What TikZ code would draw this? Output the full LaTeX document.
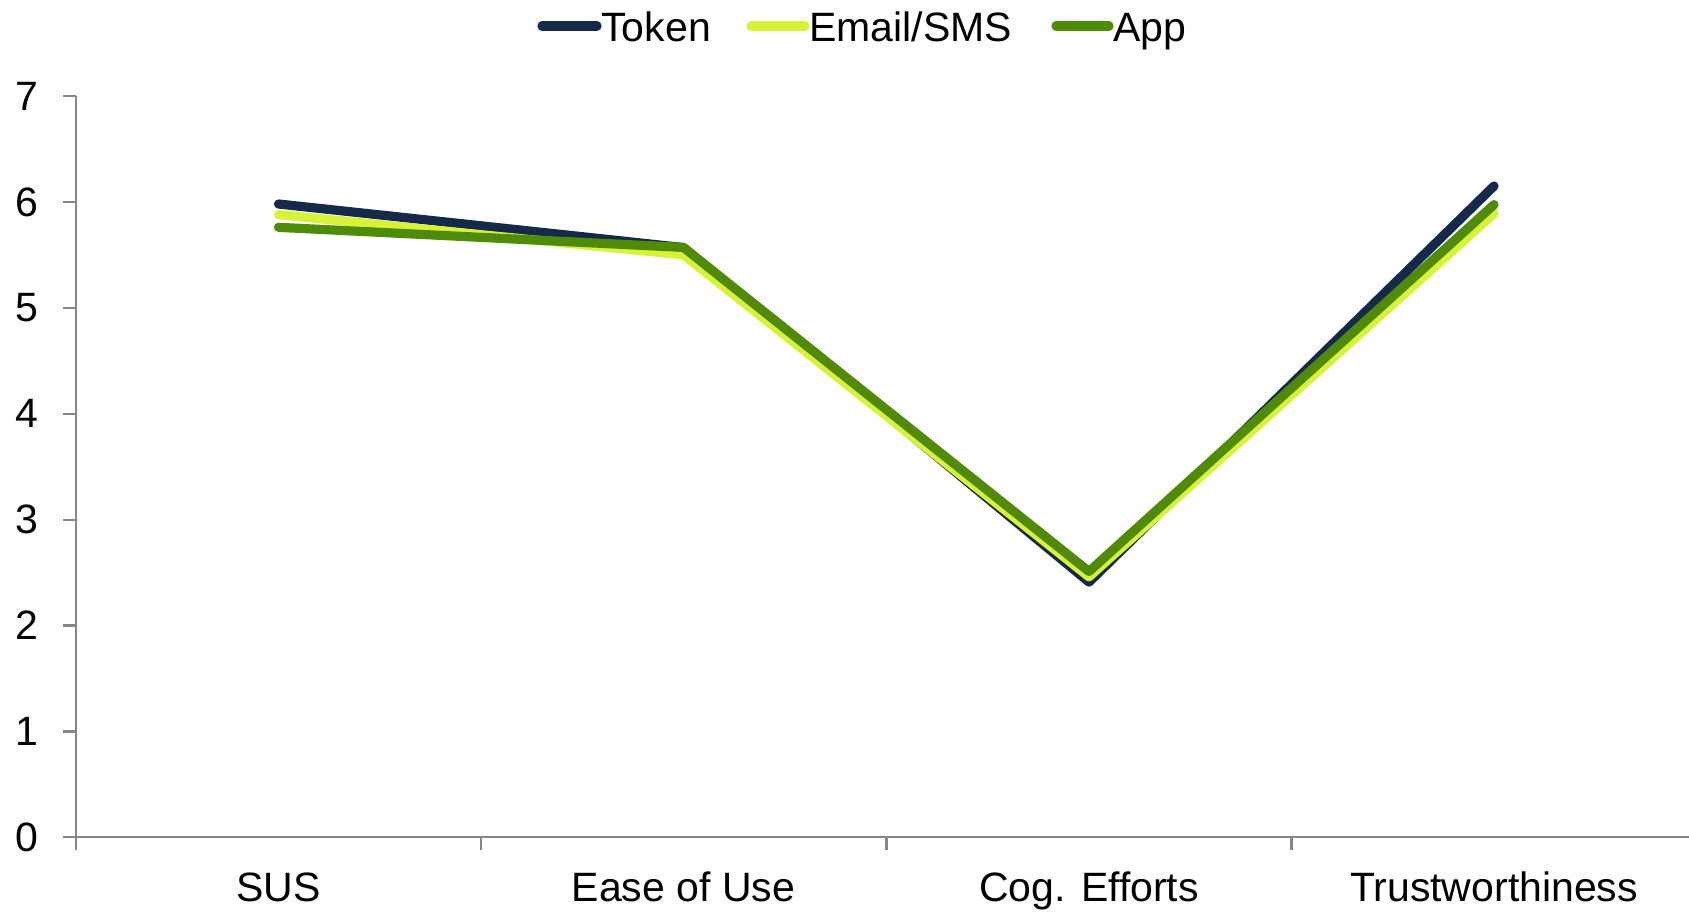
\documentclass[tikz,border=0pt]{standalone}
\usepackage{fontspec}
\setmainfont{Liberation Sans}
\definecolor{tokenc}{HTML}{152A4A}
\definecolor{emailc}{HTML}{D8F23A}
\definecolor{appc}{HTML}{4F8A08}
\definecolor{axisgray}{HTML}{868686}
\tikzset{
  axisline/.style={draw=axisgray, line width=1.1pt},
  series/.style={line width=4.6pt, line cap=round, line join=round},
  lbl/.style={font=\fontsize{20.5pt}{24pt}\selectfont, inner sep=0pt},
}
\begin{document}
\begin{tikzpicture}[x=0.5pt,y=-0.5pt]
\useasboundingbox (0,0) rectangle (1689,912);
% axes
\coordinate (ytop) at (76,95.7);
\coordinate (ybot) at (76,850);
\coordinate (xl) at (63,837.3);
\coordinate (xr) at (1689,837.3);
\draw[axisline] (ytop) -- (ybot);
\draw[axisline] (xl) -- (xr);
\foreach \v in {0,...,7}{
  \coordinate (yt\v) at (76,837.3-105.9*\v);
  \coordinate (ytl\v) at (63,837.3-105.9*\v);
  \draw[axisline] (ytl\v) -- (yt\v);
  \node[lbl, anchor=east] (ylab\v) at (39,837.3-105.9*\v) {\v};
}
\foreach \i/\x in {1/481,2/886.5,3/1291.5}{
  \coordinate (xt\i) at (\x,837.3);
  \coordinate (xtb\i) at (\x,850);
  \draw[axisline] (xt\i) -- (xtb\i);
}
\node[lbl, anchor=base] (c1) at (278.5,901.7) {SUS};
\node[lbl, anchor=base] (c2) at (683.5,901.7) {Ease of Use};
\node[lbl, anchor=base] (c3) at (1089,901.7) {Cog. Efforts};
\node[lbl, anchor=base] (c4) at (1494,901.7) {Trustworthiness};
% data
\coordinate (t1) at (278.5,204.0);
\coordinate (t2) at (683.5,247.6);
\coordinate (t3) at (1089,582.1);
\coordinate (t4) at (1494,186.0);
\coordinate (e1) at (278.5,214.6);
\coordinate (e2) at (683.5,254.8);
\coordinate (e3) at (1089,576.8);
\coordinate (e4) at (1494,213.5);
\coordinate (a1) at (278.5,227.3);
\coordinate (a2) at (683.5,247.4);
\coordinate (a3) at (1089,571.5);
\coordinate (a4) at (1494,204.6);
\draw[series, tokenc] (t1) -- (t2) -- (t3) -- (t4);
\draw[series, emailc] (e1) -- (e2) -- (e3) -- (e4);
\draw[series, appc] (a1) -- (a2) -- (a3) -- (a4);
% legend
\coordinate (lt1) at (542,26);
\coordinate (lt2) at (597,26);
\coordinate (le1) at (751,26);
\coordinate (le2) at (805,26);
\coordinate (la1) at (1056,26);
\coordinate (la2) at (1109,26);
\draw[series, tokenc] (lt1) -- (lt2);
\draw[series, emailc] (le1) -- (le2);
\draw[series, appc] (la1) -- (la2);
\node[lbl, anchor=base west] (ltok) at (601,41.5) {Token};
\node[lbl, anchor=base west] (lem) at (809,41.5) {Email/SMS};
\node[lbl, anchor=base west] (lapp) at (1113,41.5) {App};
\end{tikzpicture}
\end{document}
